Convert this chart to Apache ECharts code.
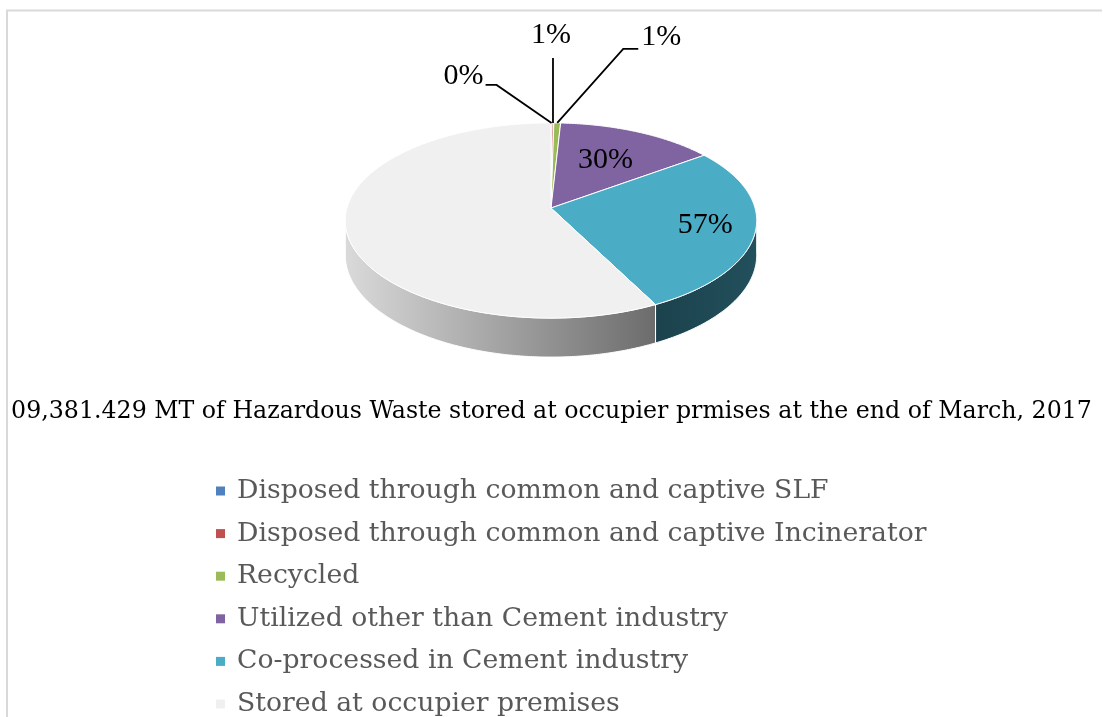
<!DOCTYPE html>
<html>
<head>
<meta charset="utf-8">
<script src="https://cdn.jsdelivr.net/npm/echarts@6/dist/echarts.min.js"></script>
<style>
  html, body { margin: 0; padding: 0; background: #fff; }
  #chart { width: 1103px; height: 717px; }
</style>
</head>
<body>
<div id="chart"></div>
<script>
// 数据
var categories = [
  "Disposed through common and captive SLF",
  "Disposed through common and captive Incinerator",
  "Recycled",
  "Utilized other than Cement industry",
  "Co-processed in Cement industry",
  "Stored at occupier premises"
];
// slice sizes (share of the full circle, %)
var shares = [0.1, 0.15, 0.6, 14.1, 27.55, 57.5];
// label texts as printed on the chart
var labelTexts = ["0%", "1%", "1%", "30%", "57%", ""];
var titleText = "09,381.429 MT of Hazardous Waste stored at occupier prmises at the end of March, 2017";

(function() {
  var myChart = echarts.init(document.getElementById("chart"));

  var colors = ["#4f81bd", "#c0504d", "#9bbb59", "#8064a2", "#4bacc6", "#f0f0f0"];
  // wall shading: [left, right]
  var wallColors = [
    ["#3b5f8c", "#2e4e75"],
    ["#8f3a37", "#7a302e"],
    ["#6e8640", "#5f7436"],
    ["#5a4775", "#4c3b63"],
    ["#1b424d", "#22505c"],
    ["#dadada", "#6c6c6c"]
  ];

  // 3D pie geometry (pixels)
  var cx = 551, cy = 208, rx = 204, ry = 96, k = 0.128, depth = 34;
  var total = shares.reduce(function(a, b) { return a + b; }, 0);
  var starts = [];
  var acc = 0;
  shares.forEach(function(v) { starts.push(acc); acc += v; });

  function rim(deg, drop) {
    var t = deg * Math.PI / 180;
    var u = Math.sin(t), v = Math.cos(t);
    var f = 1 / (1 + k * v);
    return [cx + rx * u * f, cy - ry * v * f + (drop ? depth * f : 0)];
  }
  function inner(deg, r) {
    var t = deg * Math.PI / 180;
    var u = Math.sin(t) * r, v = Math.cos(t) * r;
    var f = 1 / (1 + k * v);
    return [cx + rx * u * f, cy - ry * v * f];
  }

  // outside labels with leader lines: elbow, end, text pos (offsets from rim point)
  var outside = {
    0: { elbow: [-55, -38], end: [-66, -38], text: [-68, -47], align: "right" },
    1: { elbow: [0, -65], end: [0, -65], text: [-2, -88], align: "center" },
    2: { elbow: [66, -74], end: [81, -74], text: [84, -86], align: "left" }
  };
  // inside label radius (fraction of radius)
  var insideR = { 3: 0.6, 4: 0.76 };

  function renderItem(params, api) {
    var i = params.dataIndex;
    var a0 = starts[i] / total * 360;
    var a1 = (starts[i] + api.value(0)) / total * 360;
    var children = [];
    var step = 0.5, a;

    // top face
    var top = [[cx, cy]];
    for (a = a0; a < a1; a += step) top.push(rim(a));
    top.push(rim(a1));
    children.push({
      type: "polygon",
      z2: 10,
      shape: { points: top },
      style: { fill: colors[i], stroke: "#ffffff", lineWidth: 1 }
    });

    // front wall
    var w0 = Math.max(a0, 97), w1 = Math.min(a1, 263);
    if (w1 > w0) {
      var wall = [];
      for (a = w0; a < w1; a += step) wall.push(rim(a));
      wall.push(rim(w1));
      for (a = w1; a > w0; a -= step) wall.push(rim(a, true));
      wall.push(rim(w0, true));
      children.push({
        type: "polygon",
        z2: 1,
        shape: { points: wall },
        style: {
          fill: new echarts.graphic.LinearGradient(0, 0, 1, 0, [
            { offset: 0, color: wallColors[i][0] },
            { offset: 1, color: wallColors[i][1] }
          ]),
          stroke: "#ffffff",
          lineWidth: 1
        }
      });
    }

    var txt = labelTexts[i];
    if (txt && outside[i]) {
      var o = outside[i];
      var p = rim((a0 + a1) / 2);
      children.push({
        type: "polyline",
        z2: 20,
        shape: { points: [p, [p[0] + o.elbow[0], p[1] + o.elbow[1]], [p[0] + o.end[0], p[1] + o.end[1]]] },
        style: { stroke: "#000000", lineWidth: 1.8, fill: null }
      });
      children.push({
        type: "text",
        z2: 20,
        x: p[0] + o.text[0],
        y: p[1] + o.text[1],
        style: {
          text: txt, fill: "#000", align: o.align, verticalAlign: "middle",
          font: "30px 'Liberation Serif', serif"
        }
      });
    } else if (txt) {
      var q = inner((a0 + a1) / 2, insideR[i]);
      children.push({
        type: "text",
        z2: 20,
        x: q[0],
        y: q[1],
        style: {
          text: txt, fill: "#000", align: "center", verticalAlign: "middle",
          font: "30px 'Liberation Serif', serif"
        }
      });
    }
    return { type: "group", children: children };
  }

  var option = {
    animation: false,
    title: {
      text: titleText,
      left: "center",
      top: 395,
      textStyle: {
        fontFamily: "DejaVu Serif",
        fontWeight: "normal",
        fontSize: 23.7,
        color: "#000000"
      }
    },
    legend: {
      orient: "vertical",
      left: 216,
      top: 476,
      height: 400,
      padding: 0,
      itemWidth: 9,
      itemHeight: 9,
      itemGap: 12.6,
      icon: "rect",
      selectedMode: false,
      data: categories,
      textStyle: {
        fontFamily: "DejaVu Serif",
        fontSize: 26.7,
        lineHeight: 30,
        color: "#595959",
        padding: [0, 0, 0, 7]
      }
    },
    graphic: [
      { type: "line", shape: { x1: 6, y1: 10.5, x2: 1102, y2: 10.5 }, style: { stroke: "#d9d9d9", lineWidth: 2 } },
      { type: "line", shape: { x1: 7, y1: 10, x2: 7, y2: 717 }, style: { stroke: "#d9d9d9", lineWidth: 2 } }
    ],
    series: [
      {
        // only feeds the legend
        type: "pie",
        silent: true,
        center: [-50, -50],
        radius: [0, 1],
        label: { show: false },
        labelLine: { show: false },
        data: categories.map(function(name, i) {
          return { name: name, value: shares[i], itemStyle: { color: colors[i] } };
        })
      },
      {
        type: "custom",
        coordinateSystem: "none",
        silent: true,
        renderItem: renderItem,
        data: shares.map(function(v, i) { return { name: categories[i], value: [v] }; })
      }
    ]
  };

  myChart.setOption(option);
  window.addEventListener("resize", function() {
    myChart.resize();
  });
})();
</script>
</body>
</html>
